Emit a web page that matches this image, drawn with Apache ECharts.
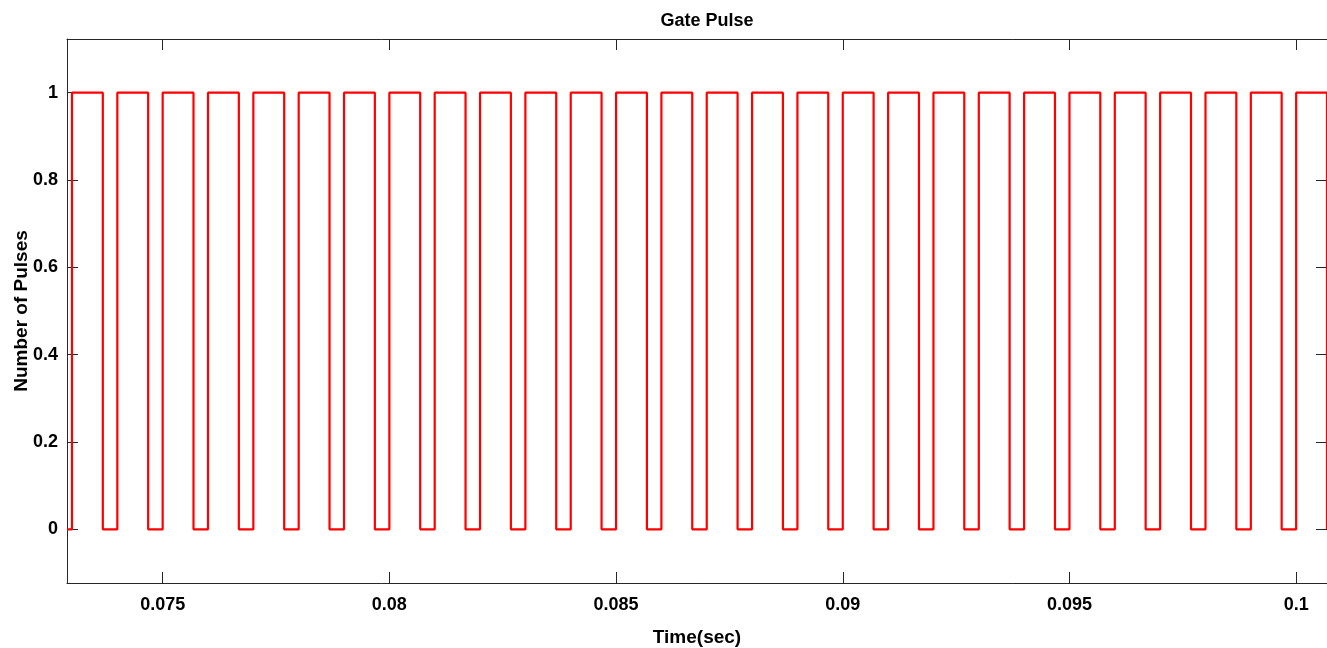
<!DOCTYPE html>
<html>
<head>
<meta charset="utf-8">
<title>Gate Pulse</title>
<script src="https://cdn.jsdelivr.net/npm/echarts@6/dist/echarts.min.js"></script>
<style>
  html, body { margin: 0; padding: 0; background: #fff; }
  #chart { width: 1327px; height: 648px; }
</style>
</head>
<body>
<div id="chart"></div>
<script>
// pulse edges (sec)
const riseTimes = [0.073, 0.074, 0.075, 0.076, 0.077, 0.078, 0.079, 0.080, 0.081, 0.082,
  0.083, 0.084, 0.085, 0.086, 0.087, 0.088, 0.089, 0.090, 0.091, 0.092,
  0.093, 0.094, 0.095, 0.096, 0.097, 0.098, 0.099, 0.100]
const fallTimes = [0.07368, 0.07468, 0.07568, 0.07668, 0.07768, 0.07868, 0.07968, 0.08068, 0.08168, 0.08268,
  0.08368, 0.08468, 0.08568, 0.08668, 0.08768, 0.08868, 0.08968, 0.09068, 0.09168, 0.09268,
  0.09368, 0.09468, 0.09568, 0.09668, 0.09768, 0.09868, 0.09968, 0.10068]
const highLevel = 1
const lowLevel = 0
const startTime = 0.07289

const xTicks = [0.075, 0.08, 0.085, 0.09, 0.095, 0.1]
const xTickLabels = ['0.075', '0.08', '0.085', '0.09', '0.095', '0.1']
const yTicks = [0, 0.2, 0.4, 0.6, 0.8, 1]
const yTickLabels = ['0', '0.2', '0.4', '0.6', '0.8', '1']

// square wave points
const pulseData = [[startTime, lowLevel]]
riseTimes.forEach((t, i) => {
  pulseData.push([t, lowLevel], [t, highLevel], [fallTimes[i], highLevel], [fallTimes[i], lowLevel])
})

const font = 'Liberation Sans, Arial, sans-serif'
const axisColor = '#262626'

const labelFmt = (ticks, labels) => v => {
  const i = ticks.findIndex(t => Math.abs(t - v) < 1e-9)
  return i >= 0 ? labels[i] : ''
}

const frameX = (pos, show) => ({
  type: 'value',
  position: pos,
  min: 0.07289,
  max: 0.10068,
  splitLine: { show: false },
  axisLine: { show: true, onZero: false, lineStyle: { color: axisColor, width: 1 } },
  axisTick: { show: true, inside: true, length: 11, customValues: xTicks, lineStyle: { color: axisColor } },
  axisLabel: {
    show: show, customValues: xTicks, formatter: labelFmt(xTicks, xTickLabels),
    margin: 13, color: '#000', fontFamily: font, fontWeight: 'bold', fontSize: 18
  }
})

const frameY = (pos, show) => ({
  type: 'value',
  position: pos,
  min: -0.123,
  max: 1.123,
  splitLine: { show: false },
  axisLine: { show: true, onZero: false, lineStyle: { color: axisColor, width: 1 } },
  axisTick: { show: true, inside: true, length: 11, customValues: yTicks, lineStyle: { color: axisColor } },
  axisLabel: {
    show: show, customValues: yTicks, formatter: labelFmt(yTicks, yTickLabels),
    margin: 9, color: '#000', fontFamily: font, fontWeight: 'bold', fontSize: 18
  }
})

const xBottom = Object.assign(frameX('bottom', true), {
  name: 'Time(sec)', nameLocation: 'middle', nameGap: 45,
  nameTextStyle: { color: '#000', fontFamily: font, fontWeight: 'bold', fontSize: 19 }
})
const yLeft = Object.assign(frameY('left', true), {
  name: 'Number of Pulses', nameLocation: 'middle', nameGap: 36, nameRotate: 90,
  nameMoveOverlap: false,
  nameTextStyle: { color: '#000', fontFamily: font, fontWeight: 'bold', fontSize: 19 }
})

const option = {
  animation: false,
  backgroundColor: '#fff',
  title: {
    text: 'Gate Pulse',
    left: 702,
    textAlign: 'center',
    top: 7,
    textStyle: { color: '#000', fontFamily: font, fontWeight: 'bold', fontSize: 18 }
  },
  grid: { left: 67, right: 0, top: 39, bottom: 65, containLabel: false, outerBoundsMode: 'none' },
  xAxis: [xBottom, frameX('top', false)],
  yAxis: [yLeft, frameY('right', false)],
  series: [{
    type: 'line',
    xAxisIndex: 0,
    yAxisIndex: 0,
    data: pulseData,
    showSymbol: false,
    clip: true,
    lineStyle: { color: '#ff0000', width: 2.2 }
  }]
}

const chart = echarts.init(document.getElementById('chart'))
chart.setOption(option)
</script>
</body>
</html>
